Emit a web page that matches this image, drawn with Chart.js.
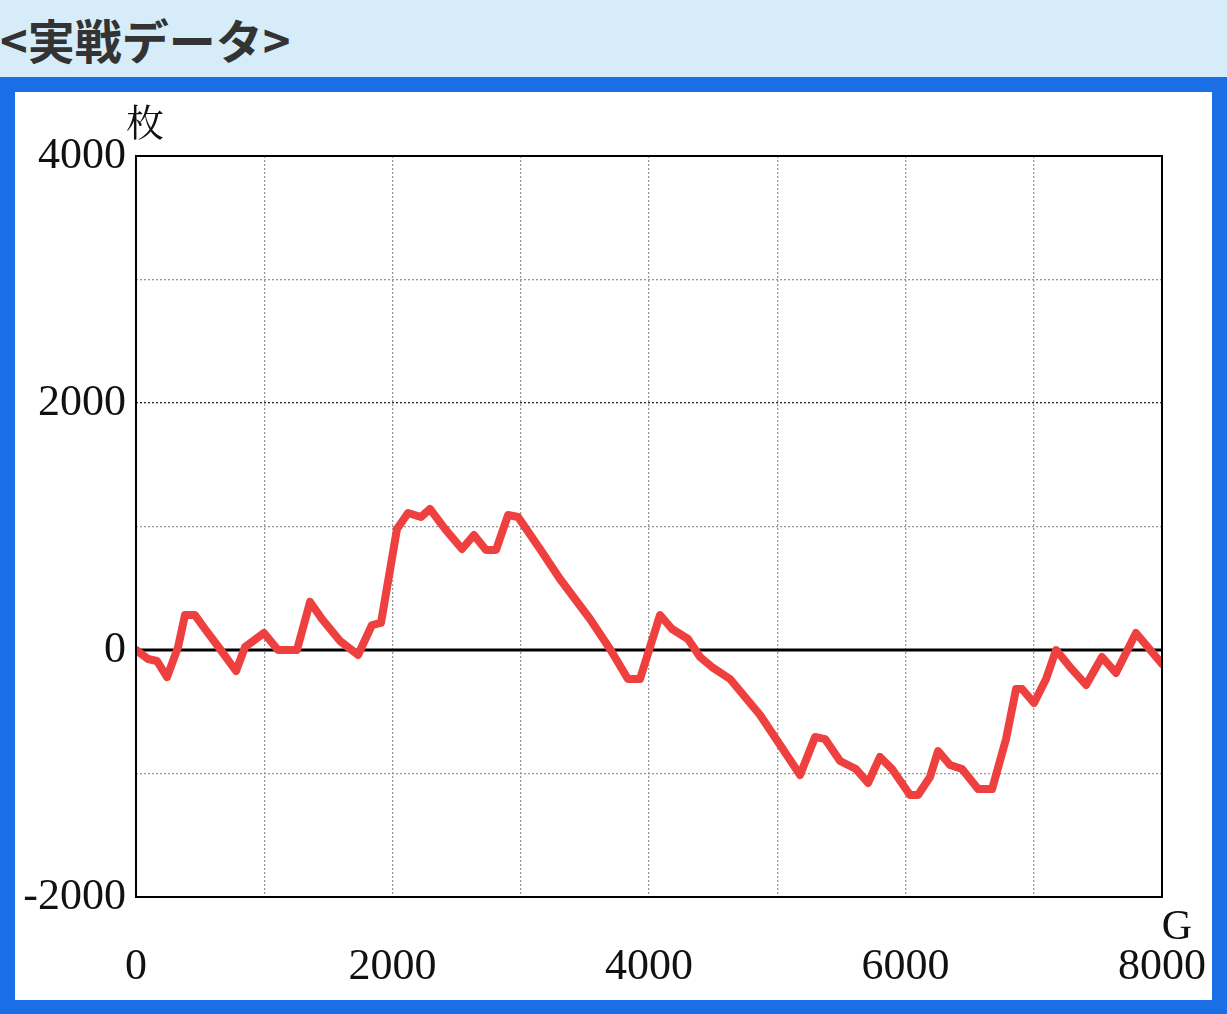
<!DOCTYPE html>
<html><head><meta charset="utf-8">
<script src="https://cdn.jsdelivr.net/npm/chart.js@4"></script>
<style>
body{margin:0;width:1227px;height:1014px;overflow:hidden;background:#fff;}
#hdr{position:absolute;left:0;top:0;width:1227px;height:77px;background:#d6edf9;font:bold 47px "Noto Sans CJK JP";color:#333;line-height:77px;}
#frame{position:absolute;left:0;top:77px;width:1227px;height:937px;background:#1a6ee6;}
#box{position:absolute;left:15px;top:15px;width:1197px;height:908px;background:#fff;}
</style></head><body>
<div id="hdr">&lt;実戦データ&gt;</div>
<div id="frame"><div id="box"><canvas id="c" width="1197" height="908"></canvas></div></div>
<script>
const games = [0,94,164,242,328,382,460,538,655,780,850,998,1107,1255,1357,1450,1591,1731,1840,1910,2035,2121,2222,2292,2409,2542,2635,2729,2807,2901,2979,3150,3306,3540,3696,3836,3930,4086,4180,4304,4398,4491,4632,4866,5178,5295,5373,5490,5614,5708,5801,5895,6035,6098,6191,6254,6347,6441,6566,6675,6784,6862,6909,7002,7096,7174,7283,7408,7532,7641,7797,8000];
const coins = [0,-73,-89,-219,24,283,283,170,8,-170,24,138,0,0,389,251,73,-40,202,219,980,1109,1077,1142,980,818,931,810,810,1093,1077,818,575,251,8,-235,-235,283,170,89,-57,-138,-235,-526,-1012,-704,-721,-899,-964,-1077,-866,-964,-1174,-1174,-1028,-818,-931,-964,-1126,-1126,-721,-316,-316,-429,-235,0,-138,-283,-57,-186,138,-113];
const xLabels = [0,2000,4000,6000,8000];
const yLabels = [-2000,0,2000,4000];

const tickFont = {family:'"Liberation Serif"', size:44};
const frame = {
  id:'frame',
  afterDatasetsDraw(ch){
    const {ctx, chartArea:a} = ch;
    ctx.save();
    ctx.strokeStyle='#000';ctx.lineWidth=2;
    ctx.strokeRect(a.left,a.top,a.right-a.left,a.bottom-a.top);
    ctx.fillStyle='#111';ctx.font='38px "Noto Serif CJK JP","Liberation Serif"';
    ctx.textAlign='left';ctx.fillText('枚',a.left-10,a.top-20);
    ctx.font='42px "Liberation Serif"';ctx.textAlign='right';
    ctx.fillText('G',a.right+30,a.bottom+42);
    ctx.restore();
  },
  beforeDatasetsDraw(ch){
    const {ctx, chartArea:a, scales} = ch;
    const y0 = scales.y.getPixelForValue(0);
    ctx.save();ctx.strokeStyle='#000';ctx.lineWidth=3;
    ctx.beginPath();ctx.moveTo(a.left,y0);ctx.lineTo(a.right,y0);ctx.stroke();ctx.restore();
  }
};
new Chart(document.getElementById('c'), {
  type:'line',
  data:{datasets:[{data:games.map((g,i)=>({x:g,y:coins[i]})),borderColor:'#ef4040',borderWidth:8,pointRadius:0,tension:0,borderJoinStyle:'round',borderCapStyle:'round'}]},
  options:{
    responsive:false,animation:false,
    layout:{padding:{top:64,right:50,left:0,bottom:0}},
    plugins:{legend:{display:false},tooltip:{enabled:false}},
    scales:{
      x:{type:'linear',min:0,max:8000,
        ticks:{stepSize:1000,maxRotation:0,color:'#111',font:tickFont,padding:44,
          callback:v=>xLabels.includes(v)?String(v):''},
        grid:{color:'#999',lineWidth:1.3,drawTicks:false},
        border:{display:false,dash:[2,2]},
        afterFit(s){s.height=103;s.paddingRight=0;s.paddingLeft=0;}},
      y:{min:-2000,max:4000,
        ticks:{stepSize:1000,color:'#111',font:tickFont,padding:10,
          callback:v=>yLabels.includes(v)?String(v):''},
        grid:{color:c=>c.tick&&c.tick.value===2000?'#222':'#999',lineWidth:1.3,drawTicks:false},
        border:{display:false,dash:[2,2]},
        afterFit(s){s.width=121;s.paddingTop=0;s.paddingBottom=0;}}
    }
  },
  plugins:[frame]
});
</script>
</body></html>
